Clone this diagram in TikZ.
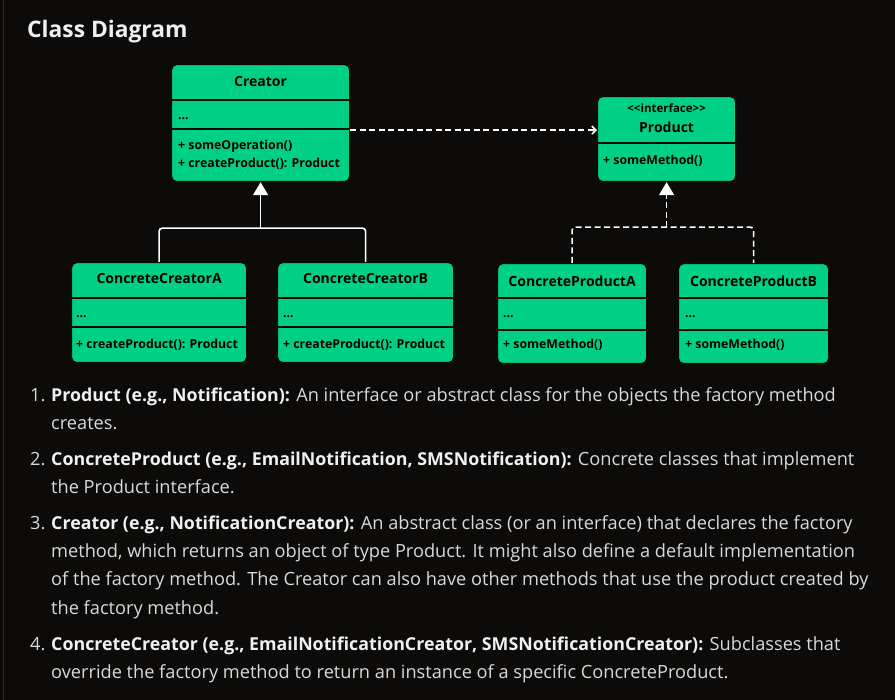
\documentclass[tikz,border=0pt]{standalone}
\usepackage{fontspec}
\setmainfont{Open Sans}
\newfontfamily\boxfont{Open Sans}
\usepackage{xcolor}
\usetikzlibrary{positioning,arrows.meta}
\definecolor{bg}{HTML}{0C0B0A}
\definecolor{umlgreen}{HTML}{00CF86}
\definecolor{edge}{HTML}{0A0A0A}
\definecolor{bodygray}{HTML}{D9D9D9}
\definecolor{headwhite}{HTML}{F0F0F0}
\definecolor{rulegray}{HTML}{2A2A2A}
\tikzstyle{classbox}=[rectangle,rounded corners=5pt,fill=umlgreen,draw=edge,line width=1.2pt,anchor=north west,inner sep=0pt]
\tikzstyle{divider}=[draw=edge,line width=1.5pt]
\tikzstyle{classname}=[font=\boxfont\bfseries\fontsize{14}{16}\selectfont,text=black,anchor=base,inner sep=0pt]
\tikzstyle{stereo}=[font=\boxfont\bfseries\fontsize{11.5}{13}\selectfont,text=black,anchor=base,inner sep=0pt]
\tikzstyle{member}=[font=\boxfont\bfseries\fontsize{12.3}{14}\selectfont,text=black,anchor=base west,inner sep=0pt]
\tikzstyle{inherit}=[draw=white,line width=1.6pt,rounded corners=3pt]
\tikzstyle{realize}=[draw=white,line width=1.6pt,rounded corners=3pt,dash pattern=on 6pt off 3.5pt]
\tikzstyle{num}=[font=\fontsize{18.2}{22}\selectfont,text=bodygray,anchor=base west,inner sep=0pt]
\tikzstyle{line}=[font=\fontsize{18.2}{22}\selectfont,text=bodygray,anchor=base west,inner sep=0pt]
\newcommand{\lead}[1]{\textcolor{headwhite}{\fontsize{17.8}{22}\selectfont\bfseries #1}}

\begin{document}
\begin{tikzpicture}[x=1pt,y=-1pt]
		% canvas
		\fill[bg] (0,0) rectangle (895,700);
		\useasboundingbox (0,0) rectangle (895,700);
		\draw[rulegray,line width=1pt] (3,0) -- (3,700);
		\node[font=\bfseries\fontsize{22.8}{27}\selectfont,text=headwhite,anchor=base west,inner sep=0pt] (heading) at (27,38) {Class Diagram};

		% creator
		\node[classbox,minimum width=178pt,minimum height=117pt] (creator) at (171,64) {};
		\draw[divider] ([yshift=-36]creator.north west) -- ([yshift=-36]creator.north east);
		\draw[divider] ([yshift=-65]creator.north west) -- ([yshift=-65]creator.north east);
		\node[classname] (creator-name) at ([yshift=-23]creator.north) {Creator};
		\node[member] (creator-attr) at ([xshift=7,yshift=-55.5]creator.north west) {...};
		\node[member] (creator-op) at ([xshift=7,yshift=-86]creator.north west) {+ someOperation()};
		\node[member] (creator-make) at ([xshift=7,yshift=-103.5]creator.north west) {+ createProduct(): Product};

		% product
		\node[classbox,minimum width=138pt,minimum height=85pt] (product) at (597,96) {};
		\draw[divider] ([yshift=-47]product.north west) -- ([yshift=-47]product.north east);
		\node[stereo] (product-stereo) at ([yshift=-17]product.north) {<<interface>>};
		\node[classname] (product-name) at ([yshift=-37]product.north) {Product};
		\node[member] (product-op) at ([xshift=6,yshift=-69]product.north west) {+ someMethod()};

		% concrete creators
		\node[classbox,minimum width=175pt,minimum height=100pt] (cca) at (71,262) {};
		\draw[divider] ([yshift=-36]cca.north west) -- ([yshift=-36]cca.north east);
		\draw[divider] ([yshift=-65]cca.north west) -- ([yshift=-65]cca.north east);
		\node[classname] (cca-name) at ([yshift=-22]cca.north) {ConcreteCreatorA};
		\node[member] (cca-attr) at ([xshift=5,yshift=-56]cca.north west) {...};
		\node[member] (cca-make) at ([xshift=5,yshift=-87]cca.north west) {+ createProduct(): Product};

		\node[classbox,minimum width=176pt,minimum height=100pt] (ccb) at (277,262) {};
		\draw[divider] ([yshift=-36]ccb.north west) -- ([yshift=-36]ccb.north east);
		\draw[divider] ([yshift=-65]ccb.north west) -- ([yshift=-65]ccb.north east);
		\node[classname] (ccb-name) at ([yshift=-22]ccb.north) {ConcreteCreatorB};
		\node[member] (ccb-attr) at ([xshift=6,yshift=-56]ccb.north west) {...};
		\node[member] (ccb-make) at ([xshift=6,yshift=-87]ccb.north west) {+ createProduct(): Product};

		% concrete products
		\node[classbox,minimum width=149pt,minimum height=100pt] (cpa) at (497,263) {};
		\draw[divider] ([yshift=-35]cpa.north west) -- ([yshift=-35]cpa.north east);
		\draw[divider] ([yshift=-67]cpa.north west) -- ([yshift=-67]cpa.north east);
		\node[classname] (cpa-name) at ([yshift=-24]cpa.north) {ConcreteProductA};
		\node[member] (cpa-attr) at ([xshift=6,yshift=-55]cpa.north west) {...};
		\node[member] (cpa-op) at ([xshift=6,yshift=-86]cpa.north west) {+ someMethod()};

		\node[classbox,minimum width=150pt,minimum height=100pt] (cpb) at (678,263) {};
		\draw[divider] ([yshift=-35]cpb.north west) -- ([yshift=-35]cpb.north east);
		\draw[divider] ([yshift=-67]cpb.north west) -- ([yshift=-67]cpb.north east);
		\node[classname] (cpb-name) at ([yshift=-24]cpb.north) {ConcreteProductB};
		\node[member] (cpb-attr) at ([xshift=7,yshift=-55]cpb.north west) {...};
		\node[member] (cpb-op) at ([xshift=7,yshift=-86]cpb.north west) {+ someMethod()};

		% uses
		\draw[realize,-{Straight Barb[length=4pt,width=8pt]}] ([yshift=-7]creator.east) -- ([yshift=-7]creator.east -| product.west);

		% inheritance
		\coordinate (creator-join) at ([yshift=-46]creator.south);
		\draw[inherit] (cca.north) |- (creator-join) -| (ccb.north);
		\draw[inherit,-{Triangle[length=13pt,width=15pt]}] (creator-join) -- (creator.south);

		% realization
		\coordinate (product-join) at ([yshift=-45]product.south);
		\draw[realize] (cpa.north) |- (product-join) -| (cpb.north);
		\draw[realize,-{Triangle[length=13pt,width=15pt]}] (product-join) -- (product.south);

		% notes
		\node[num] (n1) at (30,402) {1.};
		\node[line] (l1a) at (51,402) {\lead{Product (e.g., Notification):} An interface or abstract class for the objects the factory method};
		\node[line] (l1b) at (51,430) {creates.};
		\node[num] (n2) at (30,466) {2.};
		\node[line] (l2a) at (51,466) {\lead{ConcreteProduct (e.g., EmailNotification, SMSNotification):} Concrete classes that implement};
		\node[line] (l2b) at (51,494) {the Product interface.};
		\node[num] (n3) at (30,530) {3.};
		\node[line] (l3a) at (51,530) {\lead{Creator (e.g., NotificationCreator):} An abstract class (or an interface) that declares the factory};
		\node[line] (l3b) at (51,558) {method, which returns an object of type Product. It might also define a default implementation};
		\node[line] (l3c) at (51,586) {of the factory method. The Creator can also have other methods that use the product created by};
		\node[line] (l3d) at (51,614) {the factory method.};
		\node[num] (n4) at (30,650) {4.};
		\node[line] (l4a) at (51,650) {\lead{ConcreteCreator (e.g., EmailNotificationCreator, SMSNotificationCreator):} Subclasses that};
		\node[line] (l4b) at (51,678) {override the factory method to return an instance of a specific ConcreteProduct.};
	\end{tikzpicture}
\end{document}
